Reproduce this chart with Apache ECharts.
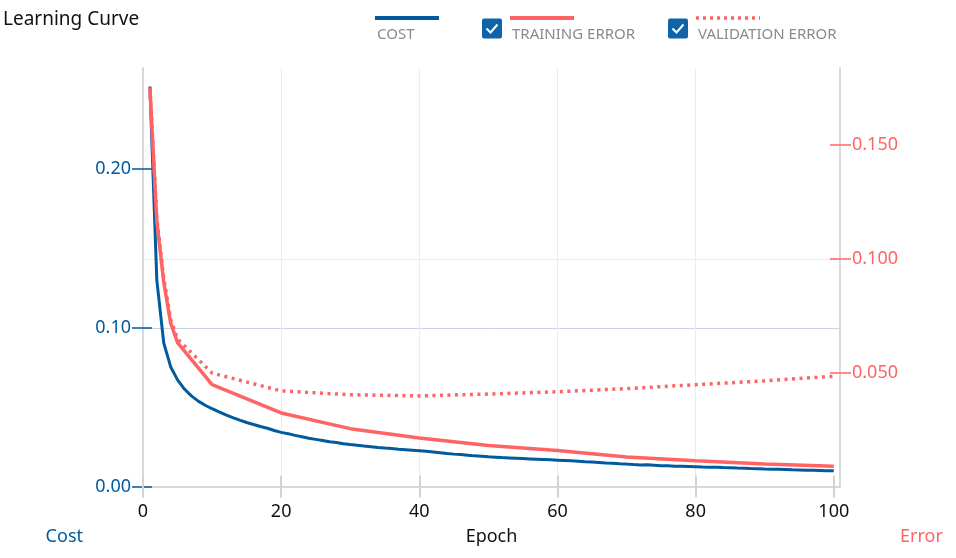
<!DOCTYPE html>
<html>
<head>
<meta charset="utf-8">
<script src="https://cdn.jsdelivr.net/npm/echarts@6/dist/echarts.min.js"></script>
<style>
html,body{margin:0;padding:0;background:#fff;}
#chart{width:956px;height:558px;}
</style>
</head>
<body>
<div id="chart"></div>
<script>
// ---- data ----
var epochs = [
  1,2,3,4,5,6,7,8,9,10,11,12,13,14,15,16,17,18,19,20,
  21,22,23,24,25,26,27,28,29,30,31,32,33,34,35,36,37,38,39,40,
  41,42,43,44,45,46,47,48,49,50,51,52,53,54,55,56,57,58,59,60,
  61,62,63,64,65,66,67,68,69,70,71,72,73,74,75,76,77,78,79,80,
  81,82,83,84,85,86,87,88,89,90,91,92,93,94,95,96,97,98,99,100
];
var costValues = [
  0.2520,0.1300,0.0905,0.0755,0.0672,0.0614,0.0571,0.0538,0.0512,0.0490,
  0.0470,0.0451,0.0434,0.0418,0.0403,0.0391,0.0378,0.0367,0.0353,0.0341,
  0.0333,0.0322,0.0314,0.0304,0.0297,0.0290,0.0282,0.0277,0.0269,0.0264,
  0.0260,0.0255,0.0251,0.0246,0.0242,0.0239,0.0235,0.0232,0.0229,0.0226,
  0.0222,0.0218,0.0213,0.0208,0.0204,0.0201,0.0197,0.0193,0.0190,0.0187,
  0.0185,0.0182,0.0180,0.0178,0.0176,0.0174,0.0172,0.0170,0.0168,0.0166,
  0.0164,0.0162,0.0159,0.0156,0.0154,0.0151,0.0148,0.0146,0.0143,0.0141,
  0.0138,0.0136,0.0137,0.0134,0.0131,0.0130,0.0128,0.0127,0.0126,0.0125,
  0.0123,0.0122,0.0121,0.0119,0.0118,0.0116,0.0115,0.0113,0.0112,0.0110,
  0.0109,0.0108,0.0107,0.0105,0.0104,0.0103,0.0102,0.0101,0.0100,0.0099
];
var errorEpochs = [1,2,3,4,5,10,20,30,40,50,60,70,80,90,100];
var trainingError = [0.1752,0.1165,0.0898,0.0718,0.0632,0.0447,0.0323,0.0254,0.0213,0.0180,0.0158,0.0130,0.0113,0.0099,0.0089];
var validationError = [0.1752,0.1180,0.0915,0.0735,0.0648,0.0498,0.0420,0.0403,0.0398,0.0406,0.0416,0.0430,0.0447,0.0464,0.0484];

var xTicks = [0,20,40,60,80,100];
var costTicks = [0,0.1,0.2];
var errorTicks = [0.05,0.1,0.15];

var legendItems = ['COST','TRAINING ERROR','VALIDATION ERROR'];
var titleText = 'Learning Curve';

// ---- styles ----
var FONT = '"Noto Sans", "Open Sans", sans-serif';
var BLUE = '#005a9e';
var RED = '#ff6464';
var FRAME = '#d6dadf';

function pairs(xs, ys){ return xs.map(function(x,i){ return [x, ys[i]]; }); }

var chart = echarts.init(document.getElementById('chart'), null, {renderer:'canvas'});

var xBase = { type:'value', min:0, max:100.9, interval:20, gridIndex:0 };
var costBase = { type:'value', min:0, max:0.2637, interval:0.1, gridIndex:0 };
var errBase = { type:'value', min:0, max:0.1838, interval:0.05, gridIndex:0 };

var option = {
  animation:false,
  backgroundColor:'#ffffff',
  textStyle:{ fontFamily: FONT },
  title:{
    text: titleText, left:3, top:10, padding:0,
    textStyle:{ fontFamily:FONT, fontSize:19, fontWeight:'normal', color:'#111', lineHeight:19 }
  },
  grid:{ left:143, right:116, top:68, bottom:71.5, containLabel:false },
  xAxis:[
    Object.assign({}, xBase, {
      position:'bottom',
      name:'Epoch', nameLocation:'middle', nameGap:41,
      nameTextStyle:{ fontFamily:FONT, fontSize:18, color:'#111', lineHeight:18 },
      axisLine:{ show:true, onZero:false, lineStyle:{ color:FRAME, width:2 } },
      axisTick:{ show:true, inside:false, length:11, customValues:xTicks, lineStyle:{ color:'#d0d4d8', width:2 } },
      axisLabel:{ show:true, margin:16, customValues:xTicks, fontFamily:FONT, fontSize:18, color:'#111', lineHeight:18 },
      splitLine:{ show:true, showMaxLine:false, lineStyle:{ color:'#ececec', width:1 } }
    }),
    Object.assign({}, xBase, {
      position:'bottom',
      axisLine:{ show:false, onZero:false },
      axisTick:{ show:true, inside:true, length:11, customValues:xTicks, lineStyle:{ color:'#d0d4d8', width:2 } },
      axisLabel:{ show:false },
      splitLine:{ show:false }
    })
  ],
  yAxis:[
    Object.assign({}, costBase, {
      position:'left',
      name:'Cost', nameLocation:'start', nameGap:41,
      nameTextStyle:{ fontFamily:FONT, fontSize:18, color:BLUE, align:'right', padding:[0,60,0,0], lineHeight:18 },
      axisLine:{ show:true, onZero:false, lineStyle:{ color:FRAME, width:2 } },
      axisTick:{ show:true, inside:false, length:11, customValues:costTicks, lineStyle:{ color:BLUE, width:1.5 } },
      axisLabel:{ show:true, margin:12, customValues:costTicks, fontFamily:FONT, fontSize:18, color:BLUE,
        padding:[4,0,0,0],
        formatter:function(v){ return v.toFixed(2); } },
      splitLine:{ show:true, showMinLine:false, showMaxLine:false, lineStyle:{ color:'#c8d4e0', width:1 } }
    }),
    Object.assign({}, costBase, {
      position:'left',
      axisLine:{ show:false, onZero:false },
      axisTick:{ show:true, inside:true, length:9, customValues:costTicks, lineStyle:{ color:BLUE, width:1.5 } },
      axisLabel:{ show:false },
      splitLine:{ show:false }
    }),
    Object.assign({}, errBase, {
      position:'right',
      name:'Error', nameLocation:'start', nameGap:41,
      nameTextStyle:{ fontFamily:FONT, fontSize:18, color:RED, align:'left', padding:[0,0,0,60], lineHeight:18 },
      axisLine:{ show:true, onZero:false, lineStyle:{ color:FRAME, width:2 } },
      axisTick:{ show:true, inside:false, length:11, customValues:errorTicks, lineStyle:{ color:RED, width:1.5 } },
      axisLabel:{ show:true, margin:12, customValues:errorTicks, fontFamily:FONT, fontSize:18, color:RED,
        padding:[4,0,0,0],
        formatter:function(v){ return v.toFixed(3); } },
      splitLine:{ show:true, showMinLine:false, showMaxLine:false, lineStyle:{ color:'#fde0e0', width:1 } }
    }),
    Object.assign({}, errBase, {
      position:'right',
      axisLine:{ show:false, onZero:false },
      axisTick:{ show:true, inside:true, length:10, customValues:errorTicks, lineStyle:{ color:RED, width:1.5 } },
      axisLabel:{ show:false },
      splitLine:{ show:false }
    })
  ],
  series:[
    {
      name:legendItems[0], type:'line', xAxisIndex:0, yAxisIndex:0,
      data:pairs(epochs, costValues), showSymbol:false, symbol:'none',
      lineStyle:{ color:BLUE, width:3 }, itemStyle:{ color:BLUE }, z:2
    },
    {
      name:legendItems[1], type:'line', xAxisIndex:0, yAxisIndex:2,
      data:pairs(errorEpochs, trainingError), showSymbol:false, symbol:'none',
      lineStyle:{ color:RED, width:3.5 }, itemStyle:{ color:RED }, z:3
    },
    {
      name:legendItems[2], type:'line', xAxisIndex:0, yAxisIndex:2,
      data:pairs(errorEpochs, validationError), showSymbol:false, symbol:'none',
      lineStyle:{ color:RED, width:3.5, type:[3,4.5] }, itemStyle:{ color:RED }, z:3
    }
  ],
  graphic:[
    { type:'line', shape:{x1:375,y1:18,x2:439,y2:18}, style:{stroke:BLUE, lineWidth:4} },
    { type:'text', x:377, y:35, style:{ text:legendItems[0], font:'15px '+FONT, fill:'#8a8a8a', verticalAlign:'middle' } },

    { type:'rect', shape:{x:482,y:18.5,width:20,height:20,r:2}, style:{fill:'#1063a9'} },
    { type:'polyline', shape:{points:[[486.5,28.5],[490.5,32.5],[497.5,24.5]]}, style:{stroke:'#fff', lineWidth:2, fill:null} },
    { type:'line', shape:{x1:510,y1:18,x2:574,y2:18}, style:{stroke:RED, lineWidth:4} },
    { type:'text', x:512, y:35, style:{ text:legendItems[1], font:'15px '+FONT, fill:'#8a8a8a', verticalAlign:'middle' } },

    { type:'rect', shape:{x:668,y:18.5,width:20,height:20,r:2}, style:{fill:'#1063a9'} },
    { type:'polyline', shape:{points:[[672.5,28.5],[676.5,32.5],[683.5,24.5]]}, style:{stroke:'#fff', lineWidth:2, fill:null} },
    { type:'line', shape:{x1:696,y1:18,x2:760,y2:18}, style:{stroke:RED, lineWidth:3.5, lineDash:[3,4]} },
    { type:'text', x:698, y:35, style:{ text:legendItems[2], font:'15px '+FONT, fill:'#8a8a8a', verticalAlign:'middle' } }
  ]
};
chart.setOption(option);
</script>
</body>
</html>
